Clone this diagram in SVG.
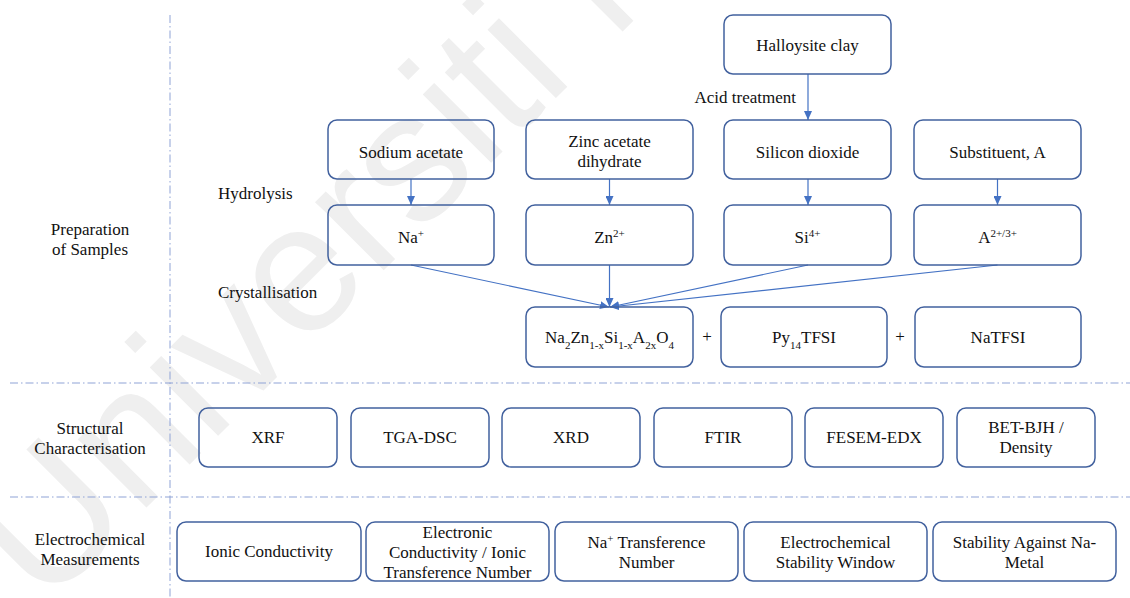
<svg xmlns="http://www.w3.org/2000/svg" width="1130" height="598" viewBox="0 0 1130 598">
<style>
.bx{fill:none;stroke:#42619e;stroke-width:1.5}
.t{font-size:17px;fill:#111;text-anchor:middle}
.l{font-size:17px;fill:#111}
.c{stroke:#4472c4;stroke-width:1.2;fill:none;marker-end:url(#ah)}
.d{stroke:#8fa3d6;stroke-width:1;stroke-dasharray:8 3 1.5 3;fill:none}
.s{font-size:11px}
</style>
<defs>
<marker id="ah" markerUnits="userSpaceOnUse" markerWidth="9" markerHeight="8" refX="9" refY="4" orient="auto">
<path d="M0,0 L9,4 L0,8 z" fill="#4472c4"/>
</marker>
</defs>
<rect width="1130" height="598" fill="#ffffff"/>
<text x="44" y="610" transform="rotate(-45 44 610)" font-family="Liberation Sans, Arial, sans-serif" font-size="183" fill="#efefef">Universiti Malaya</text>
<g id="dividers">
<line class="d" x1="170" y1="15" x2="170" y2="598"/>
<line class="d" x1="10" y1="383" x2="1130" y2="383"/>
<line class="d" x1="10" y1="497" x2="1130" y2="497"/>
</g>
<g font-family="Liberation Serif, Times New Roman, serif">
<g id="section-labels">
<text class="t" x="90" y="235">Preparation</text>
<text class="t" x="90" y="255">of Samples</text>
<text class="t" x="90" y="434">Structural</text>
<text class="t" x="90" y="454">Characterisation</text>
<text class="t" x="90" y="545">Electrochemical</text>
<text class="t" x="90" y="565">Measurements</text>
<text class="l" x="218" y="199">Hydrolysis</text>
<text class="l" x="218" y="298">Crystallisation</text>
<text class="l" x="796" y="103" text-anchor="end">Acid treatment</text>
</g>
<g id="connectors">
<line class="c" x1="808" y1="74" x2="808" y2="120"/>
<line class="c" x1="411" y1="179" x2="411" y2="205"/>
<line class="c" x1="609.5" y1="179" x2="609.5" y2="205"/>
<line class="c" x1="808" y1="179" x2="808" y2="205"/>
<line class="c" x1="997.5" y1="179" x2="997.5" y2="205"/>
<line class="c" x1="411" y1="265" x2="609" y2="307"/>
<line class="c" x1="609.5" y1="265" x2="609.5" y2="307"/>
<line class="c" x1="808" y1="265" x2="610" y2="307"/>
<line class="c" x1="997.5" y1="265" x2="610" y2="307"/>
</g>
<g id="n-halloysite"><rect class="bx" x="724" y="15" width="167" height="59" rx="9"/><text class="t" x="807.5" y="50.5">Halloysite clay</text></g>
<g id="n-sodium-acetate"><rect class="bx" x="328" y="120" width="166" height="59" rx="9"/><text class="t" x="411" y="157.5">Sodium acetate</text></g>
<g id="n-zinc-acetate"><rect class="bx" x="526" y="120" width="167" height="59" rx="9"/><text class="t" x="609.5" y="147">Zinc acetate</text><text class="t" x="609.5" y="167">dihydrate</text></g>
<g id="n-silicon-dioxide"><rect class="bx" x="724" y="120" width="167" height="59" rx="9"/><text class="t" x="807.5" y="157.5">Silicon dioxide</text></g>
<g id="n-substituent"><rect class="bx" x="914" y="120" width="167" height="59" rx="9"/><text class="t" x="997.5" y="157.5">Substituent, A</text></g>
<g id="n-na"><rect class="bx" x="328" y="205" width="166" height="60" rx="9"/><text class="t" x="411" y="242.5">Na<tspan class="s" baseline-shift="super">+</tspan></text></g>
<g id="n-zn"><rect class="bx" x="526" y="205" width="167" height="60" rx="9"/><text class="t" x="609.5" y="242.5">Zn<tspan class="s" baseline-shift="super">2+</tspan></text></g>
<g id="n-si"><rect class="bx" x="724" y="205" width="167" height="60" rx="9"/><text class="t" x="807.5" y="242.5">Si<tspan class="s" baseline-shift="super">4+</tspan></text></g>
<g id="n-a"><rect class="bx" x="914" y="205" width="167" height="60" rx="9"/><text class="t" x="997.5" y="242.5">A<tspan class="s" baseline-shift="super">2+/3+</tspan></text></g>
<g id="n-product"><rect class="bx" x="526" y="307" width="167" height="60" rx="9"/><text class="t" x="609.5" y="343">Na<tspan class="s" baseline-shift="sub">2</tspan>Zn<tspan class="s" baseline-shift="sub">1-x</tspan>Si<tspan class="s" baseline-shift="sub">1-x</tspan>A<tspan class="s" baseline-shift="sub">2x</tspan>O<tspan class="s" baseline-shift="sub">4</tspan></text></g>
<text class="t" x="707" y="342">+</text>
<g id="n-py14tfsi"><rect class="bx" x="721" y="307" width="166" height="60" rx="9"/><text class="t" x="804" y="343">Py<tspan class="s" baseline-shift="sub">14</tspan>TFSI</text></g>
<text class="t" x="900" y="342">+</text>
<g id="n-natfsi"><rect class="bx" x="915" y="307" width="166" height="60" rx="9"/><text class="t" x="998" y="343">NaTFSI</text></g>
<g id="n-xrf"><rect class="bx" x="199" y="408" width="138" height="59" rx="9"/><text class="t" x="268" y="443">XRF</text></g>
<g id="n-tga"><rect class="bx" x="351" y="408" width="138" height="59" rx="9"/><text class="t" x="420" y="443">TGA-DSC</text></g>
<g id="n-xrd"><rect class="bx" x="502" y="408" width="138" height="59" rx="9"/><text class="t" x="571" y="443">XRD</text></g>
<g id="n-ftir"><rect class="bx" x="654" y="408" width="138" height="59" rx="9"/><text class="t" x="723" y="443">FTIR</text></g>
<g id="n-fesem"><rect class="bx" x="805" y="408" width="138" height="59" rx="9"/><text class="t" x="874" y="443">FESEM-EDX</text></g>
<g id="n-bet"><rect class="bx" x="957" y="408" width="138" height="59" rx="9"/><text class="t" x="1026" y="433">BET-BJH /</text><text class="t" x="1026" y="453">Density</text></g>
<g id="n-ionic"><rect class="bx" x="177" y="522" width="184" height="59" rx="9"/><text class="t" x="269" y="557">Ionic Conductivity</text></g>
<g id="n-electronic"><rect class="bx" x="366" y="522" width="183" height="59" rx="9"/><text class="t" x="457.5" y="538">Electronic</text><text class="t" x="457.5" y="558">Conductivity / Ionic</text><text class="t" x="457.5" y="578">Transference Number</text></g>
<g id="n-transference"><rect class="bx" x="555" y="522" width="183" height="59" rx="9"/><text class="t" x="646.5" y="548">Na<tspan class="s" baseline-shift="super">+</tspan> Transference</text><text class="t" x="646.5" y="568">Number</text></g>
<g id="n-window"><rect class="bx" x="744" y="522" width="183" height="59" rx="9"/><text class="t" x="835.5" y="548">Electrochemical</text><text class="t" x="835.5" y="568">Stability Window</text></g>
<g id="n-stability"><rect class="bx" x="933" y="522" width="183" height="59" rx="9"/><text class="t" x="1024.5" y="548">Stability Against Na-</text><text class="t" x="1024.5" y="568">Metal</text></g>
</g>
</svg>
